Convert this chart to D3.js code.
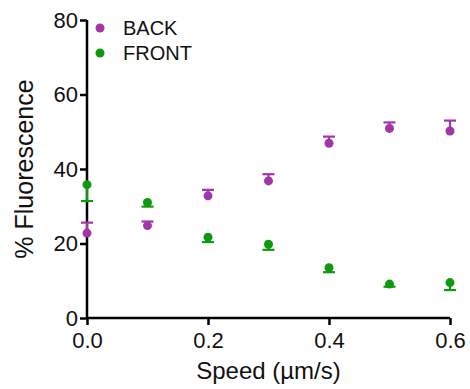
<!DOCTYPE html>
<html>
<head>
<meta charset="utf-8">
<script src="https://cdn.jsdelivr.net/npm/d3@7"></script>
<style>
  body { margin: 0; background: #fff; }
  text { font-family: "Liberation Sans", Arial, sans-serif; }
</style>
</head>
<body>
<div id="chart"></div>
<script>
// speeds (µm/s)
const speeds = [0.0, 0.1, 0.2, 0.3, 0.4, 0.5, 0.6];
// mean % fluorescence
const backMean = [22.8, 24.8, 32.8, 36.8, 46.9, 50.9, 50.2];
const frontMean = [35.8, 31.0, 21.7, 19.8, 13.5, 9.1, 9.5];
// error (one-sided: back above, front below)
const backErr = [2.8, 1.1, 1.6, 1.8, 1.8, 1.6, 2.8];
const frontErr = [4.4, 1.1, 1.3, 1.5, 1.2, 0.7, 2.0];
const xTicks = [0.0, 0.2, 0.4, 0.6];
const yTicks = [0, 20, 40, 60, 80];

const width = 470, height = 389;
const margin = { top: 20, right: 20, bottom: 71, left: 87 };
const innerW = 450 - margin.left;
const innerH = 318 - margin.top;

const svg = d3.select("#chart")
  .append("svg")
    .attr("width", width)
    .attr("height", height)
  .append("g")
    .attr("transform", `translate(${margin.left},${margin.top})`);

const x = d3.scaleLinear().domain([0, 0.6]).range([0, innerW]);
const y = d3.scaleLinear().domain([0, 80]).range([innerH, 0]);

// axes
const xAxis = svg.append("g")
  .attr("transform", `translate(0,${innerH})`)
  .call(d3.axisBottom(x).tickValues(xTicks).tickFormat(d3.format(".1f")).tickSize(7).tickPadding(7));
const yAxis = svg.append("g")
  .call(d3.axisLeft(y).tickValues(yTicks).tickSize(7).tickPadding(2));

[xAxis, yAxis].forEach(a => {
  a.select(".domain").attr("stroke-width", 2.5).attr("stroke", "#000");
  a.selectAll(".tick line").attr("stroke-width", 2.5).attr("stroke", "#000");
  a.selectAll(".tick text").style("font-size", "22px").attr("fill", "#111");
});
xAxis.select(".domain").attr("d", `M0,0H${innerW}`);
yAxis.select(".domain").attr("d", `M0,${innerH}V0`);

// axis titles
svg.append("text")
  .attr("x", innerW / 2)
  .attr("y", innerH + 61)
  .attr("text-anchor", "middle")
  .style("font-size", "24px")
  .attr("fill", "#111")
  .text("Speed (\u00b5m/s)");

svg.append("text")
  .attr("transform", `translate(-54,${149}) rotate(-90)`)
  .attr("text-anchor", "middle")
  .style("font-size", "25px")
  .attr("fill", "#111")
  .text("% Fluorescence");

const series = [
  { name: "BACK", color: "#a236a8", mean: backMean, err: backErr, dir: 1 },
  { name: "FRONT", color: "#0e990e", mean: frontMean, err: frontErr, dir: -1 }
];

series.forEach(s => {
  const g = svg.append("g");
  const pts = speeds.map((sp, i) => ({ sp, m: s.mean[i], e: s.err[i] }));
  g.selectAll(".bar")
    .data(pts)
    .enter()
    .append("line")
      .attr("x1", d => x(d.sp))
      .attr("x2", d => x(d.sp))
      .attr("y1", d => y(d.m))
      .attr("y2", d => y(d.m + s.dir * d.e))
      .attr("stroke", s.color)
      .attr("stroke-width", 2.2);
  g.selectAll(".cap")
    .data(pts)
    .enter()
    .append("line")
      .attr("x1", d => x(d.sp) - 6)
      .attr("x2", d => x(d.sp) + 6)
      .attr("y1", d => y(d.m + s.dir * d.e))
      .attr("y2", d => y(d.m + s.dir * d.e))
      .attr("stroke", s.color)
      .attr("stroke-width", 2.2);
  g.selectAll("circle")
    .data(pts)
    .enter()
    .append("circle")
      .attr("cx", d => x(d.sp))
      .attr("cy", d => y(d.m))
      .attr("r", 4.5)
      .attr("fill", s.color);
});

// legend
const legend = svg.append("g").attr("transform", "translate(13,8)");
series.forEach((s, i) => {
  legend.append("circle")
    .attr("cx", 0)
    .attr("cy", i * 25)
    .attr("r", 4.5)
    .attr("fill", s.color);
  legend.append("text")
    .attr("x", 23)
    .attr("y", i * 25 + 7)
    .style("font-size", "20px")
    .attr("fill", "#111")
    .text(s.name);
});
</script>
</body>
</html>
